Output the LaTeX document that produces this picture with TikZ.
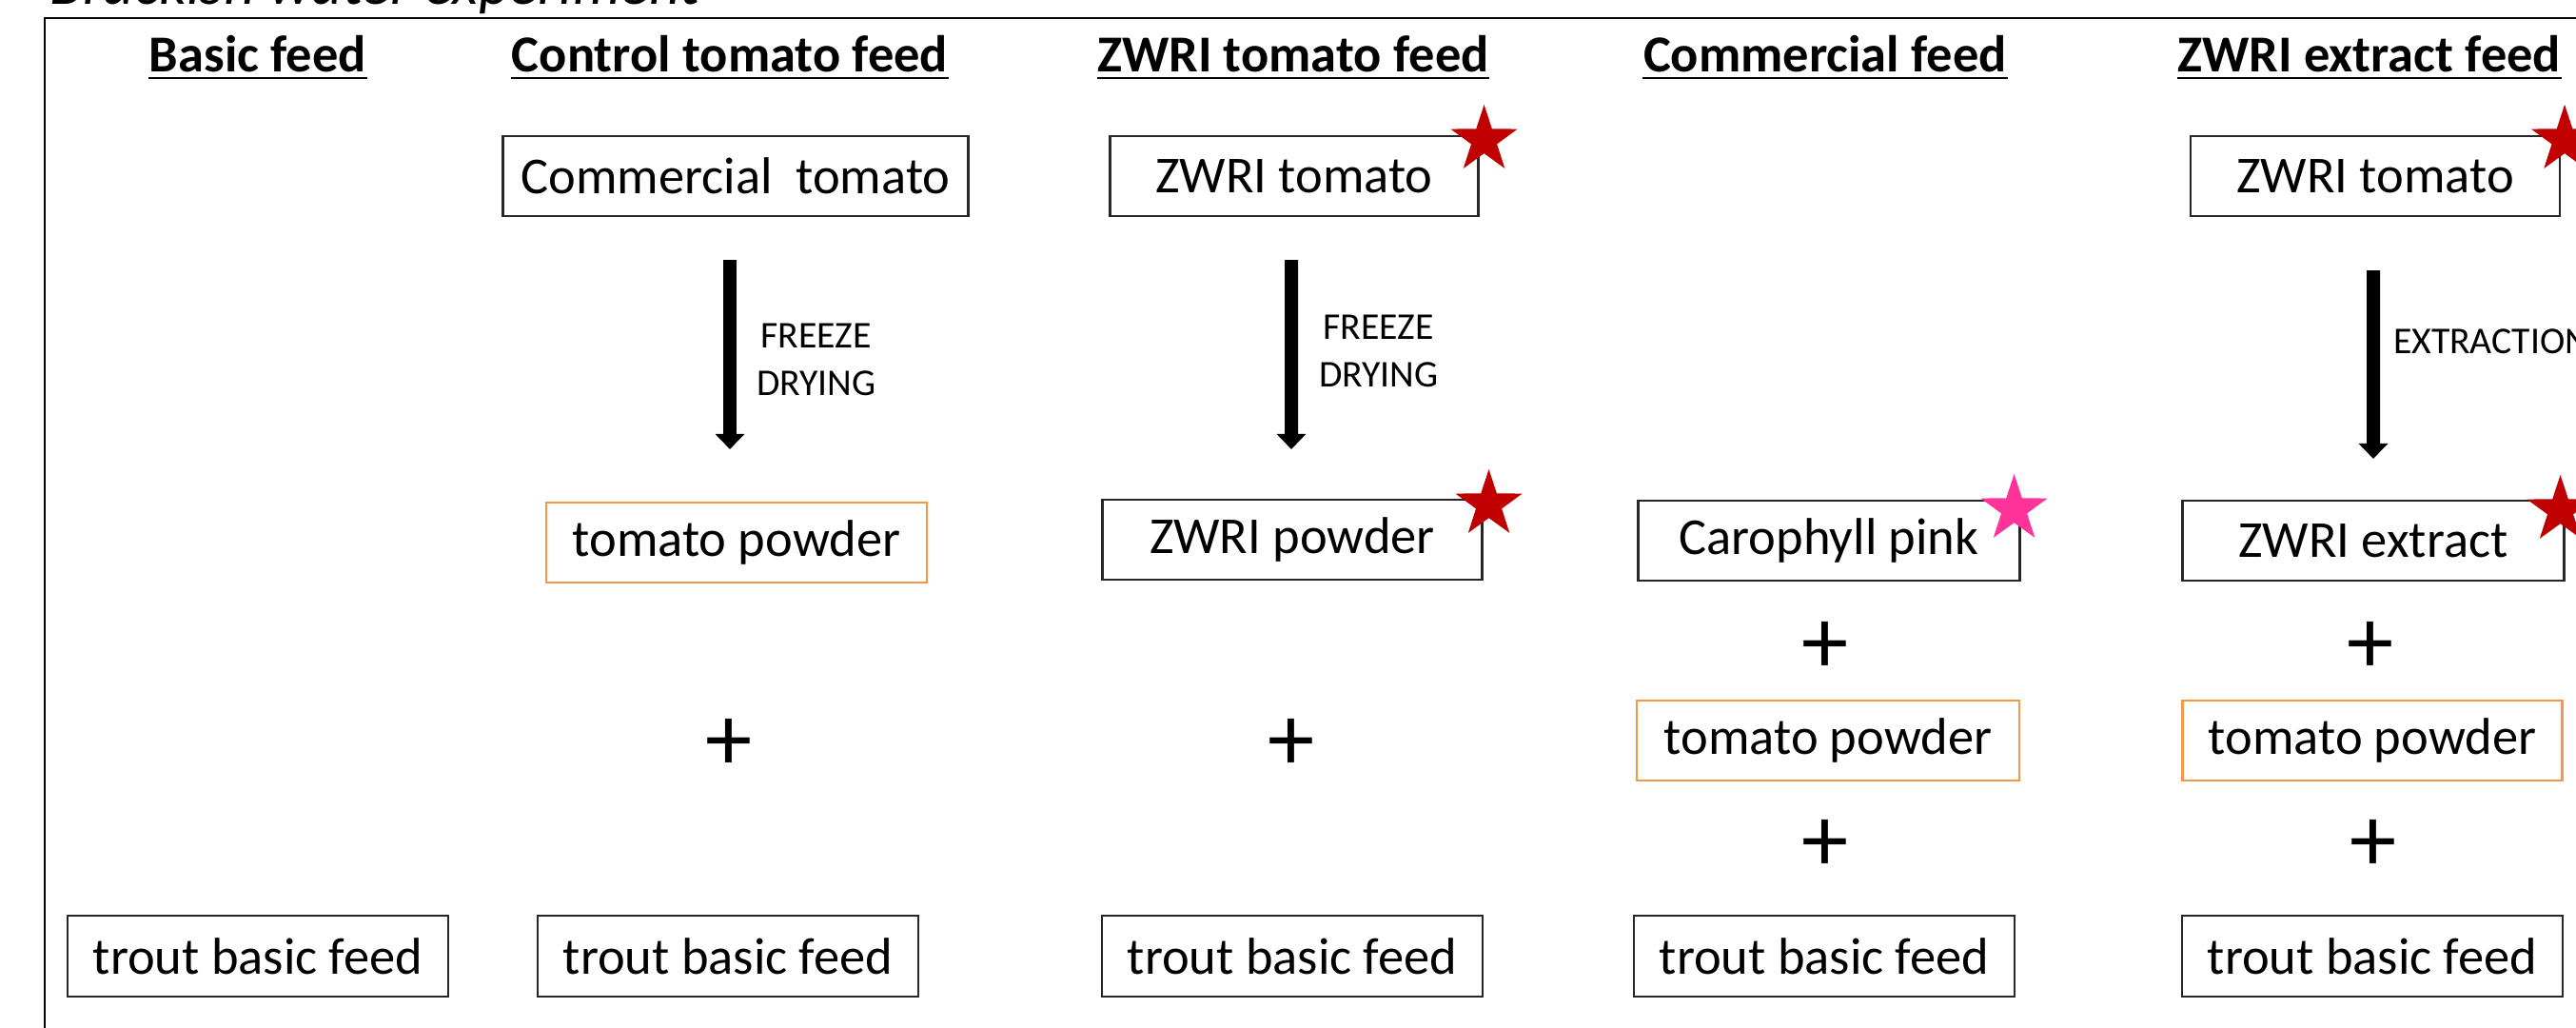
\documentclass[tikz,border=0pt]{standalone}
\usepackage{fontspec}
\setmainfont{Carlito}
\usetikzlibrary{positioning,shapes.geometric,arrows.meta}
\definecolor{rojoest}{HTML}{C00000}
\definecolor{rosaest}{HTML}{FF3399}
\definecolor{naranja}{HTML}{F79646}
\tikzset{
  caja/.style={draw=black!85, line width=0.6pt, minimum height=0.84cm, inner sep=0pt, font=\fontsize{15.5}{18}\selectfont},
  cajanar/.style={caja, draw=naranja},
  cabecera/.style={font=\bfseries\fontsize{15.5}{18}\selectfont, inner sep=0pt, anchor=base},
  mas/.style={font=\fontsize{28}{30}\selectfont, inner sep=0pt},
  flecha/.style={line width=0.14cm, -{Triangle[width=0.30cm,length=0.16cm]}},
  etiqueta/.style={font=\fontsize{11.3}{14.2}\selectfont, align=center, inner sep=0pt},
  estrella/.style={star, star points=5, star point ratio=2.6, minimum size=0.74cm, inner sep=0pt, draw=none, fill=rojoest},
}
\begin{document}
\begin{tikzpicture}
        \useasboundingbox (0,0) rectangle (27.07,-10.79);
        %%%%%%%%%%%%%%%%%%%%%%%% Titulo y marco %%%%%%%%%%%%%%%%%%%%%%%%%%%%%%%%%%
        \node[anchor=base west, inner sep=0pt, font=\itshape\fontsize{18}{20}\selectfont] (titulo) at (0.52,-0.04) {Brackish water experiment};
        \draw[line width=0.7pt] (27.5,-0.19) -- (0.47,-0.19) -- (0.47,-11.2); %marco cortado
        %%%%%%%%%%%%%%%%%%%%%%%% Cabeceras %%%%%%%%%%%%%%%%%%%%%%%%%%%%%%%%%%%%%%%
        \node[cabecera] (h1) at (2.71,-0.75) {Basic feed};
        \node[cabecera] (h2) at (7.67,-0.75) {Control tomato feed};
        \node[cabecera] (h3) at (13.59,-0.75) {ZWRI tomato feed};
        \node[cabecera] (h4) at (19.18,-0.75) {Commercial feed};
        \node[cabecera] (h5) at (24.90,-0.75) {ZWRI extract feed};
        \foreach \h in {h1,h2,h3,h4,h5}
          \draw[line width=0.8pt] ([yshift=-2pt]\h.base west) -- ([yshift=-2pt]\h.base east); %subrayado
        %%%%%%%%%%%%%%%%%%%%%%%% Fila superior %%%%%%%%%%%%%%%%%%%%%%%%%%%%%%%%%%%
        \node[caja, minimum width=4.89cm] (ct) at (7.73,-1.85) {Commercial\ \ tomato};
        \node[caja, minimum width=3.87cm] (zt) at (13.60,-1.85) {ZWRI tomato};
        \node[caja, minimum width=3.88cm] (et) at (24.96,-1.85) {ZWRI tomato};
        %%%%%%%%%%%%%%%%%%%%%%%% Polvos y extracto %%%%%%%%%%%%%%%%%%%%%%%%%%%%%%%
        \node[cajanar, minimum width=4.00cm] (tp) at (7.74,-5.70) {tomato powder};
        \node[caja, minimum width=3.99cm] (zp) at (13.58,-5.67) {ZWRI powder};
        \node[caja, minimum width=4.01cm] (cp) at (19.22,-5.68) {Carophyll pink};
        \node[caja, minimum width=4.01cm] (ze) at (24.94,-5.68) {ZWRI extract};
        \node[cajanar, minimum width=4.02cm] (tp4) at (19.21,-7.78) {tomato powder};
        \node[cajanar, minimum width=3.99cm] (tp5) at (24.93,-7.78) {tomato powder};
        %%%%%%%%%%%%%%%%%%%%%%%% Pienso basico %%%%%%%%%%%%%%%%%%%%%%%%%%%%%%%%%%%
        \foreach \x/\n in {2.71/b1, 7.65/b2, 13.58/b3, 19.17/b4, 24.93/b5}
          \node[caja, minimum width=4.00cm, minimum height=0.85cm] (\n) at (\x,-10.045) {trout basic feed};
        %%%%%%%%%%%%%%%%%%%%%%%% Signos mas %%%%%%%%%%%%%%%%%%%%%%%%%%%%%%%%%%%%%%
        \node[mas] (m1) at (19.18,-6.80) {+};
        \node[mas] (m2) at (24.91,-6.80) {+};
        \node[mas] (m3) at (7.66,-7.82) {+};
        \node[mas] (m4) at (13.57,-7.82) {+};
        \node[mas] (m5) at (19.18,-8.88) {+};
        \node[mas] (m6) at (24.94,-8.88) {+};
        %%%%%%%%%%%%%%%%%%%%%%%% Flechas %%%%%%%%%%%%%%%%%%%%%%%%%%%%%%%%%%%%%%%%%
        \draw[flecha] ([xshift=-0.06cm,yshift=-0.45cm]ct.south) -- ([xshift=-0.07cm,yshift=0.55cm]tp.north)
          node[etiqueta, pos=0.525, right=0.21cm] (l1) {FREEZE\\DRYING};
        \draw[flecha] ([xshift=-0.03cm,yshift=-0.45cm]zt.south) -- ([xshift=-0.01cm,yshift=0.52cm]zp.north)
          node[etiqueta, pos=0.48, right=0.22cm] (l2) {FREEZE\\DRYING};
        \draw[flecha] ([xshift=-0.02cm,yshift=-0.56cm]et.south) -- ([yshift=0.43cm]ze.north)
          node[etiqueta, pos=0.375, right=0.14cm] (l3) {EXTRACTION};
        %%%%%%%%%%%%%%%%%%%%%%%% Estrellas %%%%%%%%%%%%%%%%%%%%%%%%%%%%%%%%%%%%%%%
        \node[estrella] (s1) at ([shift={(0.05,-0.05)}]zt.north east) {};
        \node[estrella] (s2) at ([shift={(0.04,-0.05)}]et.north east) {};
        \node[estrella] (s3) at ([shift={(0.06,-0.06)}]zp.north east) {};
        \node[estrella, fill=rosaest] (s4) at ([shift={(-0.07,-0.10)}]cp.north east) {};
        \node[estrella] (s5) at ([shift={(-0.05,-0.11)}]ze.north east) {};
\end{tikzpicture}
\end{document}
